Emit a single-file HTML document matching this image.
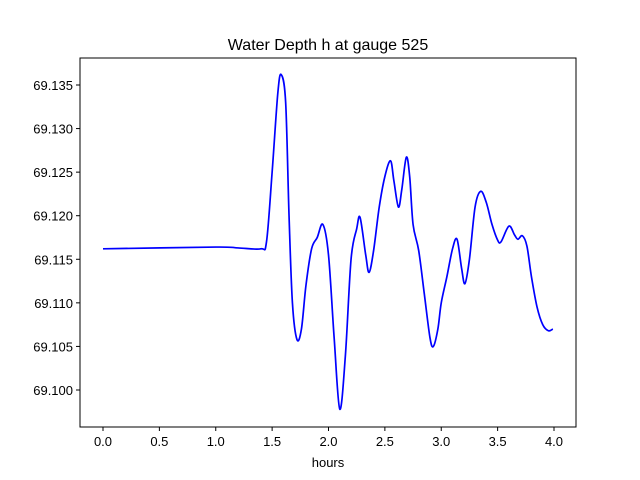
<!DOCTYPE html>
<html><head><meta charset="utf-8"><style>
body{margin:0;background:#fff;}
svg{display:block;font-family:"Liberation Sans","DejaVu Sans",sans-serif;}
</style></head><body>
<svg id="chart" width="640" height="480" viewBox="0 0 640 480">
<rect width="640" height="480" fill="#fff"/>
<text x="328" y="50" text-anchor="middle" font-size="16">Water Depth h at gauge 525</text>
<g id="ticks"></g>
<path id="line" fill="none" stroke="#0000ff" stroke-width="1.7"/>
<rect x="80" y="58" width="496" height="369" fill="none" stroke="#000" stroke-width="1"/>
<text x="328" y="467" text-anchor="middle" font-size="13">hours</text>
</svg>
<script>
const hours=[0,1,1.2,1.4,1.45,1.5,1.55,1.58,1.62,1.65,1.68,1.72,1.76,1.8,1.85,1.9,1.95,2.0,2.05,2.1,2.15,2.2,2.25,2.28,2.33,2.36,2.4,2.45,2.5,2.55,2.58,2.62,2.65,2.69,2.72,2.75,2.8,2.85,2.9,2.93,2.97,3.0,3.05,3.1,3.14,3.18,3.21,3.25,3.3,3.35,3.4,3.45,3.5,3.53,3.6,3.65,3.68,3.72,3.76,3.8,3.85,3.9,3.95,3.99];
const depth=[69.1162,69.1164,69.1163,69.1162,69.117,69.125,69.134,69.1362,69.133,69.120,69.110,69.1058,69.107,69.112,69.1162,69.1175,69.119,69.1155,69.106,69.0978,69.104,69.115,69.1185,69.1198,69.1155,69.1135,69.116,69.121,69.1245,69.1263,69.124,69.121,69.123,69.1267,69.1245,69.119,69.116,69.111,69.106,69.105,69.107,69.110,69.113,69.1162,69.1173,69.114,69.1122,69.115,69.121,69.1228,69.1215,69.119,69.1172,69.117,69.1188,69.1178,69.1173,69.1177,69.1165,69.113,69.1095,69.1075,69.1068,69.107];
const xTicks=[0,0.5,1,1.5,2,2.5,3,3.5,4];
const yTicks=[69.100,69.105,69.110,69.115,69.120,69.125,69.130,69.135];
const sx=v=>103+v*112.75;
const sy=v=>85+(69.135-v)*8714;
const NS="http://www.w3.org/2000/svg";
const g=document.getElementById('ticks');
function mk(t,a){const e=document.createElementNS(NS,t);for(const k in a)e.setAttribute(k,a[k]);g.appendChild(e);return e;}
xTicks.forEach(t=>{const x=sx(t);
const l=mk('line',{x1:x,x2:x,y1:427,y2:431,stroke:'#000'});


const tx=mk('text',{x:x,y:446,'text-anchor':'middle','font-size':13});tx.textContent=t.toFixed(1);

});
yTicks.forEach(t=>{const y=sy(t);
const l=mk('line',{x1:76,x2:80,y1:y,y2:y,stroke:'#000'});


const tx=mk('text',{x:73,y:y+5,'text-anchor':'end','font-size':13});tx.textContent=t.toFixed(3);

});
const P=hours.map((h,i)=>[sx(h),sy(depth[i])]);
let d='M'+P[0][0]+','+P[0][1];
for(let i=0;i<P.length-1;i++){const p0=P[i-1]||P[i],p1=P[i],p2=P[i+1],p3=P[i+2]||P[i+1];
const c1=[p1[0]+(p2[0]-p0[0])/6,p1[1]+(p2[1]-p0[1])/6],c2=[p2[0]-(p3[0]-p1[0])/6,p2[1]-(p3[1]-p1[1])/6];
d+=' C'+c1+' '+c2+' '+p2;}
document.getElementById('line').setAttribute('d',d);
</script>
</body></html>
